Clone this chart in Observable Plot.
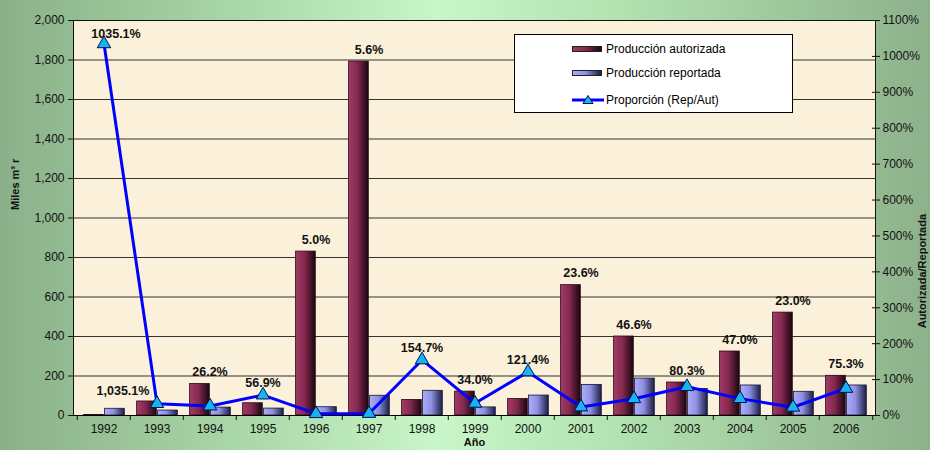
<!DOCTYPE html>
<html>
<head>
<meta charset="utf-8">
<script src="https://cdn.jsdelivr.net/npm/d3@7"></script>
<script src="https://cdn.jsdelivr.net/npm/@observablehq/plot@0.6"></script>
<style>
  html, body { margin: 0; padding: 0; }
  body { width: 930px; height: 450px; overflow: hidden; }
  #chart {
    position: relative; width: 930px; height: 450px; overflow: hidden;
    background: linear-gradient(90deg, #8ab089 0%, #a5d2a2 22%, #c8f6c8 47%, #b3e3b1 66%, #8db18b 100%);
    font-family: "Liberation Sans", Arial, sans-serif;
  }
  #chart > svg { position: absolute; left: 0; top: 0; }
  #legend {
    position: absolute; left: 514px; top: 34px; width: 279px; height: 79px;
    background: #fff; border: 1px solid #000; box-sizing: border-box;
    font-size: 12px; color: #000;
  }
  .row { position: absolute; left: 57px; height: 14px; display: flex; align-items: center; white-space: nowrap; }
  .row svg { display: block; flex: none; }
  .sw { width: 30px; height: 6px; margin-right: 4px; border: 0.5px solid #222; box-sizing: border-box; flex: none; }
  .sw.a { background: linear-gradient(90deg, #a13a68, #85294f 45%, #1a0610); }
  .sw.b { background: linear-gradient(90deg, #aaaef8, #8d90e2 45%, #1d1d45); }
</style>
</head>
<body>
<div id="chart"></div>
<script>
// ---- data ----
const years = ["1992","1993","1994","1995","1996","1997","1998","1999","2000","2001","2002","2003","2004","2005","2006"];
const autorizada = [3, 71, 160, 62, 830, 1792, 79, 121, 84, 660, 400, 167, 324, 521, 201];
const reportada  = [34, 25, 40, 35, 42, 100, 125, 41, 101, 155, 187, 134, 152, 120, 152];
const proporcion = [1035.1, 33, 26.2, 56.9, 5.0, 5.6, 154.7, 34.0, 121.4, 23.6, 46.6, 80.3, 47.0, 23.0, 75.3];
const etiquetas  = ["1035.1%", "1,035.1%", "26.2%", "56.9%", "5.0%", "5.6%", "154.7%", "34.0%", "121.4%", "23.6%", "46.6%", "80.3%", "47.0%", "23.0%", "75.3%"];
const leftTicks  = [0, 200, 400, 600, 800, 1000, 1200, 1400, 1600, 1800, 2000];
const rightTicks = [0, 100, 200, 300, 400, 500, 600, 700, 800, 900, 1000, 1100];
const serieNames = ["Producción autorizada", "Producción reportada", "Proporción (Rep/Aut)"];

const leftMax = 2000, rightMax = 1100;
const k = leftMax / rightMax; // right-axis (%) -> left-axis units

const data = years.map((y, i) => ({
  year: y, aut: autorizada[i], rep: reportada[i], prop: proporcion[i], label: etiquetas[i]
}));

const W = 930, H = 450, mL = 73, mR = 55, mT = 20, mB = 35;
const half = (W - mL - mR) / years.length / 2;

const svg = Plot.plot({
  width: W, height: H,
  marginLeft: mL, marginRight: mR, marginTop: mT, marginBottom: mB,
  style: { background: "transparent", fontFamily: "'Liberation Sans', Arial, sans-serif", fontSize: "12px", color: "#111", overflow: "visible" },
  x: { type: "band", domain: years, padding: 0, label: null },
  y: { domain: [0, leftMax], label: null },
  marks: [
    Plot.frame({ fill: "#fbf0d9", stroke: null }),
    Plot.ruleY(leftTicks.filter(d => d > 0), { stroke: "#333", strokeWidth: 1 }),
    Plot.barY(data, { x: "year", y: "aut", fill: "url(#gAut)", stroke: "#2a0a18", strokeWidth: 0.8, insetLeft: 6.6, insetRight: 26.7 }),
    Plot.barY(data, { x: "year", y: "rep", fill: "url(#gRep)", stroke: "#15153a", strokeWidth: 0.8, insetLeft: 27.6, insetRight: 5.7 }),
    Plot.frame({ stroke: "#111", fill: null }),
    Plot.ruleY([0], { stroke: "#000", strokeWidth: 1 }),
    Plot.line(data, { x: "year", y: d => d.prop * k, stroke: "#0000ff", strokeWidth: 3 }),
    Plot.dot(data, { x: "year", y: d => d.prop * k, symbol: "triangle", r: 5, fill: "#18b4f2", stroke: "#00105a", strokeWidth: 1 }),
    // labels
    Plot.text(data.slice(2), { x: "year", y: d => Math.max(d.aut, d.rep, d.prop * k), text: "label", dy: -12, fontWeight: "bold", fontSize: 12.5, fill: "#111" }),
    Plot.text(data.slice(0, 1), { x: "year", y: d => d.prop * k, text: "label", dx: 12, dy: -10, fontWeight: "bold", fontSize: 12.5, fill: "#111" }),
    Plot.text(data.slice(1, 2), { x: "year", y: d => Math.max(d.aut, d.rep, d.prop * k), text: "label", dx: -34, dy: -10, fontWeight: "bold", fontSize: 12.5, fill: "#111" }),
    // axes
    Plot.axisY(leftTicks, { anchor: "left", tickSize: 5, tickPadding: 4, tickFormat: d3.format(","), label: null, fontSize: 12, stroke: "#111" }),
    Plot.axisY(rightTicks.map(p => p * k), { anchor: "right", tickSize: 4, tickPadding: 3, tickFormat: d => Math.round(d / k) + "%", label: null, fontSize: 12, stroke: "#111" }),
    Plot.axisY(rightTicks.map(p => p * k), { anchor: "right", tickSize: -4, tickFormat: () => "", label: null, stroke: "#111" }),
    Plot.axisX(years, { anchor: "bottom", tickSize: 0, tickPadding: 9, label: null, fontSize: 12, fill: "#111" }),
    Plot.axisX(years, { anchor: "bottom", tickSize: 5, tickFormat: () => "", label: null, dx: -half, stroke: "#111" }),
    Plot.axisX([years[years.length - 1]], { anchor: "bottom", tickSize: 5, tickFormat: () => "", label: null, dx: half, stroke: "#111" }),
    // axis titles
    Plot.text(["Año"], { frameAnchor: "bottom", dy: 30, fontWeight: "bold", fontSize: 11, fill: "#111" }),
    Plot.text(["Miles m³ r"], { frameAnchor: "left", dx: -58, dy: -8, rotate: -90, fontWeight: "bold", fontSize: 11, fill: "#111" }),
    Plot.text(["Autorizada/Reportada"], { frameAnchor: "right", dx: 47, dy: -4, rotate: -90, fontWeight: "bold", fontSize: 11, fill: "#111" })
  ]
});

d3.select(svg).insert("defs", ":first-child").html(`
  <linearGradient id="gAut" x1="0" x2="1" y1="0" y2="0">
    <stop offset="0" stop-color="#a13a68"/>
    <stop offset="0.45" stop-color="#85294f"/>
    <stop offset="1" stop-color="#1a0610"/>
  </linearGradient>
  <linearGradient id="gRep" x1="0" x2="1" y1="0" y2="0">
    <stop offset="0" stop-color="#aaaef8"/>
    <stop offset="0.45" stop-color="#8d90e2"/>
    <stop offset="1" stop-color="#1d1d45"/>
  </linearGradient>`);

const chart = document.getElementById("chart");
chart.appendChild(svg);

// legend
const legend = document.createElement("div");
legend.id = "legend";
legend.innerHTML = `
  <div class="row" style="top:7px"><div class="sw a"></div><span>${serieNames[0]}</span></div>
  <div class="row" style="top:31px"><div class="sw b"></div><span>${serieNames[1]}</span></div>
  <div class="row" style="top:58px"><svg width="32" height="14" style="margin-right:2px"><line x1="0" x2="32" y1="7" y2="7" stroke="#0000ff" stroke-width="3"/><path d="M16,2.5 L21,10.5 L11,10.5 Z" fill="#18b4f2" stroke="#00105a" stroke-width="1"/></svg><span>${serieNames[2]}</span></div>`;
chart.appendChild(legend);
</script>
</body>
</html>
